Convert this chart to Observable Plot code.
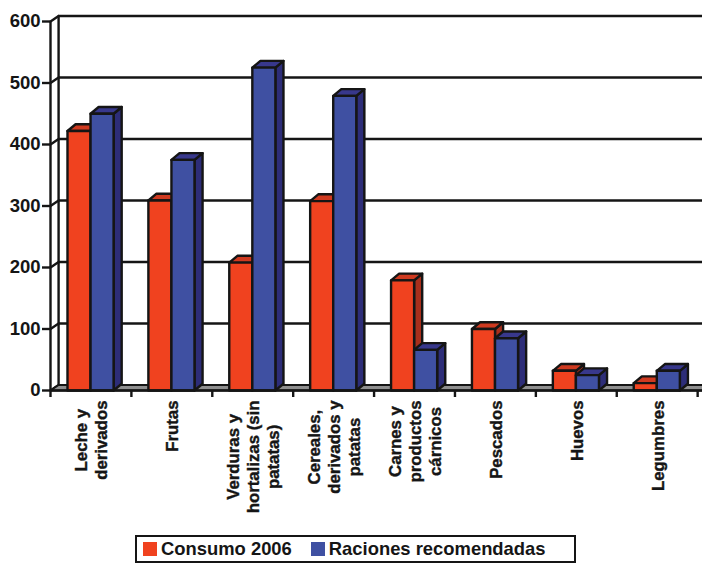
<!DOCTYPE html>
<html lang="es">
<head>
<meta charset="utf-8">
<script src="https://cdn.jsdelivr.net/npm/d3@7"></script>
<script src="https://cdn.jsdelivr.net/npm/@observablehq/plot@0.6"></script>
<style>
  html, body { margin: 0; padding: 0; background: #fff; overflow: hidden; }
  body { width: 702px; height: 563px; font-family: "Liberation Sans", Arial, sans-serif; color: #151515; }
  svg { display: block; }
  .leyenda {
    box-sizing: border-box; width: 441px; height: 28px; margin: 2px 0 0 135px;
    border: 2.5px solid #151515; display: flex; align-items: center; gap: 19px; padding-left: 6px;
    font-weight: bold; font-size: 18.4px; white-space: nowrap;
  }
  .leyenda span { display: inline-flex; align-items: center; gap: 4px; }
  .leyenda i { display: inline-block; width: 14px; height: 14px; }
</style>
</head>
<body>
<div id="grafico"></div>
<script>
const categorias = [
  "Leche y\nderivados",
  "Frutas",
  "Verduras y\nhortalizas (sin\npatatas)",
  "Cereales,\nderivados y\npatatas",
  "Carnes y\nproductos\ncárnicos",
  "Pescados",
  "Huevos",
  "Legumbres"
];
const consumo2006 = [422, 309, 208, 308, 179, 100, 32, 12];
const raciones = [450, 375, 525, 479, 66, 85, 25, 32];
const marcasY = [0, 100, 200, 300, 400, 500, 600];

const TINTA = "#151515";
const FUENTE = 18.5;
const FUENTE_CATEGORIA = 16.8;
const TRAZO = 2.4;
const fondoX = 0.1, fondoY = 9;       // depth of the box walls, in axis units
const relieveY = 11;                  // depth of each bar, in axis units
const anchoBarra = 0.285;
const inicioRojo = 0.21, inicioAzul = 0.495;

const tonos = {
  rojo: {frente: "#f0421f", lado: "#a82f1c", tapa: "#cf3a20"},
  azul: {frente: "#3f50a2", lado: "#2d2d78", tapa: "#38388c"}
};

// One closed polygon per bar face, painted back to front
const caras = [];
function cara(id, relleno, puntos) {
  [...puntos, puntos[0]].forEach(([x, y]) => caras.push({id, relleno, x, y}));
}
function barra(id, x0, v, t) {
  const x1 = x0 + anchoBarra;
  cara(id + "-lado", t.lado, [[x1, 0], [x1 + fondoX, relieveY], [x1 + fondoX, v + relieveY], [x1, v]]);
  cara(id + "-tapa", t.tapa, [[x0, v], [x0 + fondoX, v + relieveY], [x1 + fondoX, v + relieveY], [x1, v]]);
  cara(id + "-frente", t.frente, [[x0, 0], [x0, v], [x1, v], [x1, 0]]);
}
categorias.forEach((c, i) => {
  barra(`c${i}`, i + inicioRojo, consumo2006[i], tonos.rojo);
  barra(`r${i}`, i + inicioAzul, raciones[i], tonos.azul);
});

const xMax = 8.06;
const suelo = [[0, 0], [fondoX, fondoY], [xMax + fondoX, fondoY], [xMax, 0], [0, 0]]
  .map(([x, y]) => ({x, y}));
const diagonales = marcasY.flatMap(v => [{v, x: 0, y: v}, {v, x: fondoX, y: v + fondoY}]);

// Wrapped category labels: each line centred, the whole block hanging from the axis
const medidor = document.createElement("canvas").getContext("2d");
medidor.font = `bold ${FUENTE_CATEGORIA}px "Liberation Sans"`;
const etiquetas = categorias.map((c, i) => {
  const largo = d3.max(c.split("\n"), l => medidor.measureText(l).width);
  return Plot.text([c], {
    x: i + 0.5, y: 0, text: d => d, rotate: -90, textAnchor: "middle",
    lineAnchor: "middle", lineHeight: 1.19, dy: 10 + largo / 2,
    fill: TINTA, stroke: TINTA, strokeWidth: 0.4, fontWeight: "bold", fontSize: FUENTE_CATEGORIA
  });
});

const grafico = Plot.plot({
  width: 702, height: 533,
  marginLeft: 50, marginRight: 0, marginTop: 21, marginBottom: 143,
  style: {fontFamily: '"Liberation Sans", Arial, sans-serif', background: "#fff", overflow: "visible"},
  x: {domain: [0, xMax], axis: null},
  y: {domain: [0, 600], axis: null},
  color: {type: "identity"},
  marks: [
    Plot.ruleY(marcasY.slice(1), {y: d => d + fondoY, x1: fondoX, x2: xMax + fondoX, stroke: TINTA, strokeWidth: TRAZO}),
    Plot.line(diagonales, {x: "x", y: "y", z: "v", stroke: TINTA, strokeWidth: TRAZO}),
    Plot.ruleX([fondoX], {y1: fondoY, y2: 600 + fondoY, stroke: TINTA, strokeWidth: TRAZO}),
    Plot.line(suelo, {x: "x", y: "y", fill: "#8f8f8f", stroke: TINTA, strokeWidth: 2}),
    Plot.line(caras, {x: "x", y: "y", z: "id", fill: "relleno", stroke: TINTA, strokeWidth: TRAZO, strokeLinejoin: "round"}),
    Plot.ruleX([0], {y1: 0, y2: 600, stroke: TINTA, strokeWidth: TRAZO}),
    Plot.ruleY([0], {x1: 0, x2: xMax, stroke: TINTA, strokeWidth: TRAZO}),
    Plot.axisY({ticks: marcasY, tickSize: 8, tickPadding: 2, strokeWidth: TRAZO, stroke: TINTA, fill: TINTA,
      fontWeight: "bold", fontSize: FUENTE, tickFormat: d => d, label: null}),
    Plot.axisX({ticks: d3.range(0, 9), tickSize: 7, strokeWidth: TRAZO, stroke: TINTA, tickFormat: () => "", label: null}),
    ...etiquetas
  ]
});
document.getElementById("grafico").append(grafico);

const leyenda = d3.select("#grafico").append("div").attr("class", "leyenda");
[["Consumo 2006", tonos.rojo.frente], ["Raciones recomendadas", tonos.azul.frente]].forEach(([t, c]) => {
  const s = leyenda.append("span");
  s.append("i").style("background", c);
  s.append("b").text(t);
});
</script>
</body>
</html>
